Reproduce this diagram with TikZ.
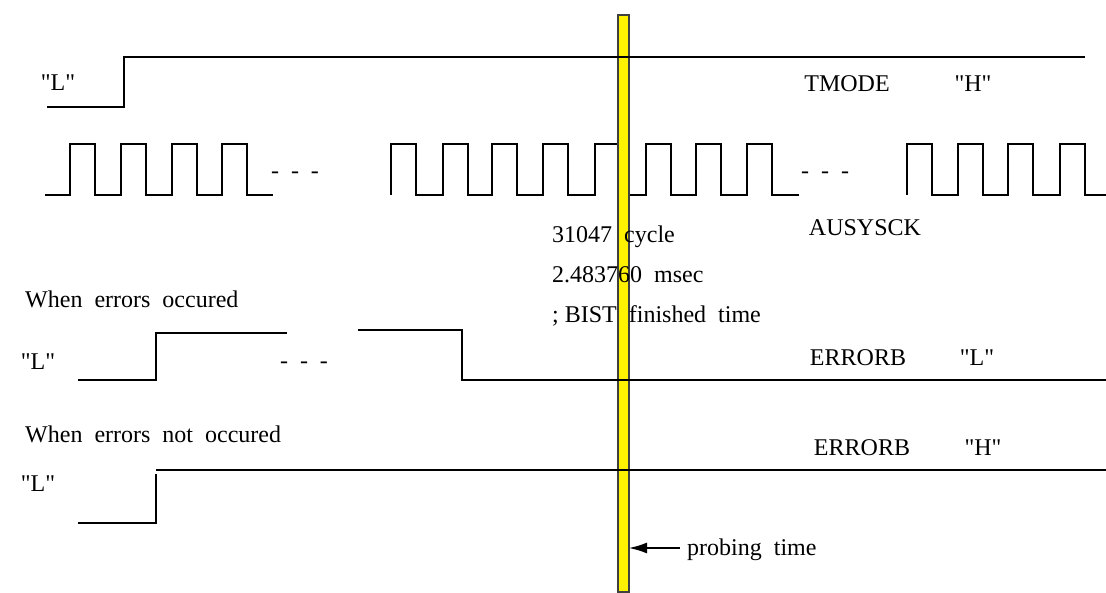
\documentclass[tikz,border=0pt]{standalone}
\usepackage{fontspec}
\setmainfont{Liberation Serif}
\usetikzlibrary{arrows.meta}

\newcommand\lvl[1]{\textquotedbl#1\textquotedbl}
\tikzset{
  wave/.style={line width=2.2pt},
  lbl/.style={font=\fontsize{24}{28}\selectfont, inner sep=0pt},
  probebar/.style={fill=yellow, draw=black!75, line width=1.2pt}
}

\begin{document}
\begin{tikzpicture}[x=1pt,y=-1pt]
\useasboundingbox (0,0) rectangle (1106,592);
% clock AUSYSCK, three pieces
\draw[wave] (45,195) foreach \x in {70,121,172,222}
  {--(\x,195)--(\x,144)--(\x+25,144)--(\x+25,195)} --(273,195);
\draw[wave] (391,195) foreach \x in {391,443,492,543,595,646,696,747}
  {--(\x,195)--(\x,144)--(\x+25,144)--(\x+25,195)} --(799,195);
\draw[wave] (907,195) foreach \x in {907,958,1008,1060}
  {--(\x,195)--(\x,144)--(\x+25,144)--(\x+25,195)} --(1106,195);
% probing bar
\draw[probebar] (618,15) rectangle (629,592);
% TMODE
\draw[wave] (47,107)--(124,107)--(124,57)--(1085,57);
% ERRORB when errors occured
\draw[wave] (78,380)--(156,380)--(156,333)--(287,333);
\draw[wave] (358,330)--(462,330)--(462,380)--(1106,380);
% ERRORB when errors not occured
\draw[wave] (78,523)--(156,523)--(156,474);
\draw[wave] (156,470)--(1106,470);
% probing time arrow
\coordinate (probe) at (680,548);
\coordinate (barR) at (629,548);
\draw[line width=1.5pt, -{Latex[length=18pt,width=11pt]}] (probe) -- (barR);

\node[lbl, anchor=base] (lTM) at (58,90) {\lvl{L}};
\node[lbl, anchor=base] (tmode) at (847,91) {TMODE};
\node[lbl, anchor=base] (tmH) at (973,91) {\lvl{H}};
\node[lbl, anchor=base] (dashA) at (295,178) {-~~-~~-};
\node[lbl, anchor=base] (dashB) at (825,178) {-~~-~~-};
\node[lbl, anchor=base] (ausysck) at (865,235) {AUSYSCK};
\node[lbl, anchor=base west] (cyc) at (552,242) {31047~~cycle};
\node[lbl, anchor=base west] (msec) at (552,282) {2.483760~~msec};
\node[lbl, anchor=base west] (bist) at (552,322) {;~BIST~~finished~~time};
\node[lbl, anchor=base west] (occ) at (25,307) {When~~errors~~occured};
\node[lbl, anchor=base] (lErr) at (38,369) {\lvl{L}};
\node[lbl, anchor=base] (dashC) at (304,368) {-~~-~~-};
\node[lbl, anchor=base] (errb) at (858,365) {ERRORB};
\node[lbl, anchor=base] (errL) at (977,365) {\lvl{L}};
\node[lbl, anchor=base west] (notocc) at (25,442) {When~~errors~~not~~occured};
\node[lbl, anchor=base] (errbB) at (862,455) {ERRORB};
\node[lbl, anchor=base] (errH) at (983,455) {\lvl{H}};
\node[lbl, anchor=base] (lOk) at (38,491) {\lvl{L}};
\node[lbl, anchor=base west] (probing) at (687,555) {probing~~time};
\end{tikzpicture}
\end{document}
